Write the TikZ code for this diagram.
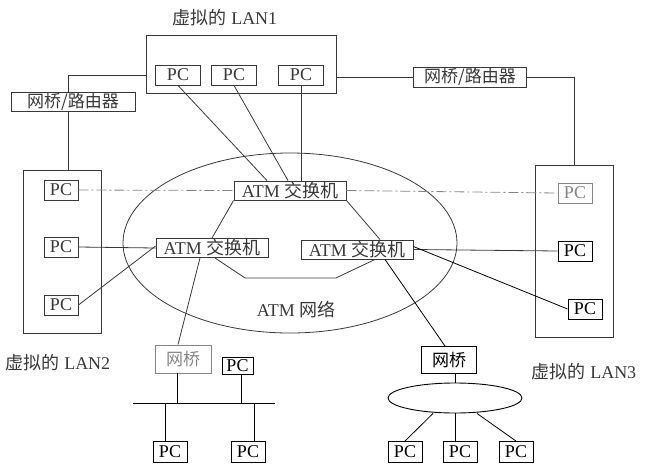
\documentclass[tikz,border=0pt]{standalone}
\usepackage{fontspec}
\setmainfont{Liberation Serif}
\newfontfamily\cjk{Noto Sans CJK SC}
\usepackage{tikz}
\usetikzlibrary{shapes.geometric}
\colorlet{lineCol}{black!78}
\colorlet{fadeCol}{black!48}

\begin{document}
\begin{tikzpicture}[x=1pt,y=-1pt,font=\fontsize{18}{20}\selectfont,
  pc/.style={draw=#1,text=#1,line width=0.9pt,minimum width=34pt,
    minimum height=20pt,inner sep=0pt},
  pc/.default=lineCol,
  lanbox/.style={draw=lineCol,line width=0.9pt,inner sep=0pt},
  atmsw/.style={draw=lineCol,text=lineCol,line width=0.9pt,
    minimum width=112pt,minimum height=19pt,inner sep=0pt},
  bridge/.style={draw=#1,text=#1,line width=0.9pt,inner sep=0pt,
    font=\cjk\fontsize{17}{19}\selectfont},
  bridge/.default=lineCol,
  link/.style={draw=#1,line width=0.8pt},
  link/.default=lineCol,
  dashlink/.style={draw=fadeCol,line width=0.8pt,
    dash pattern=on 10pt off 3pt on 2pt off 3pt},
  caption/.style={text=lineCol},
]
\useasboundingbox (0,0) rectangle (648,464);

% virtual LAN1
\node[caption] (lan1lbl) at (225,18) {{\cjk 虚拟的} LAN1};
\node[lanbox,minimum width=190pt,minimum height=58pt] (lan1) at (241,64) {};
\node[pc,minimum width=45pt] (l1pcA) at (178,75) {PC};
\node[pc,minimum width=45pt] (l1pcB) at (234,75) {PC};
\node[pc,minimum width=45pt] (l1pcC) at (301,75) {PC};

\node[bridge,minimum width=124pt,minimum height=19pt] (brgA) at (73,102) {网桥/路由器};
\node[bridge,minimum width=113pt,minimum height=20pt] (brgB) at (470,77) {网桥/路由器};

% virtual LAN2
\node[lanbox,minimum width=78pt,minimum height=163pt] (lan2) at (62,251.5) {};
\node[pc] (l2pcA) at (61,190) {PC};
\node[pc] (l2pcB) at (61,247) {PC};
\node[pc] (l2pcC) at (61,305) {PC};
\node[caption] (lan2lbl) at (58,363) {{\cjk 虚拟的} LAN2};

% virtual LAN3
\node[lanbox,minimum width=78pt,minimum height=172pt] (lan3) at (574,251) {};
\node[pc=fadeCol] (l3pcA) at (575,193) {PC};
\node[pc=black] (l3pcB) at (575,251) {PC};
\node[pc=black] (l3pcC) at (585,309) {PC};
\node[caption] (lan3lbl) at (584,372) {{\cjk 虚拟的} LAN3};

% ATM network
\draw[lineCol,line width=0.8pt] (290,243) ellipse [x radius=167pt,y radius=90pt];
\node[caption] (atmlbl) at (296,310) {ATM {\cjk 网络}};
\node[atmsw] (sw1) at (290,190.5) {ATM {\cjk 交换机}};
\node[atmsw] (sw2) at (212,248) {ATM {\cjk 交换机}};
\node[atmsw] (sw3) at (357,249.5) {ATM {\cjk 交换机}};

% bridged segment, lower left
\node[bridge=fadeCol,minimum width=56pt,minimum height=28pt] (brgL) at (183,359) {网桥};
\node[pc=black,minimum width=31pt,minimum height=17pt] (pcL) at (237.5,366) {PC};
\coordinate (busW) at (133,403);
\coordinate (busE) at (275,403);
\node[pc=black,minimum height=21pt] (bpcA) at (170,452) {PC};
\node[pc=black,minimum height=21pt] (bpcB) at (248,452) {PC};

% bridged segment, lower right
\node[bridge=black,minimum width=55pt,minimum height=27pt] (brgR) at (449,360) {网桥};
\node[draw=black,line width=0.9pt,ellipse,minimum width=134pt,minimum height=30pt] (seg) at (455,398) {};
\node[pc=black,minimum height=21pt] (rpcA) at (405,452) {PC};
\node[pc=black,minimum height=21pt] (rpcB) at (460,452) {PC};
\node[pc=black,minimum height=21pt] (rpcC) at (516,452) {PC};

% LAN1 to bridges
\draw[link] (lan1.west |- l1pcA) -| ([xshift=-5pt]brgA.north);
\draw[link] ([xshift=-5pt]brgA.south) -- ([xshift=-5pt]brgA.south |- lan2.north);
\draw[link] (lan1.east |- brgB) -- (brgB.west);
\draw[link] (brgB.east) -| (lan3.north);

% LAN1 to switch
\draw[link] (l1pcA.south) -- ([xshift=-23pt]sw1.north);
\draw[link] (l1pcB.south) -- ([xshift=-2pt]sw1.north);
\draw[link] (l1pcC.south) -- (l1pcC.south |- sw1.north);

% switch links
\draw[dashlink] (l2pcA.east) -- (sw1.west);
\draw[dashlink] (sw1.east) -- (l3pcA.west);
\draw[link] (sw1.south west) -- (sw2.north);
\draw[link] (sw1.south east) -- ([xshift=23pt]sw3.north);
\draw[link] ([xshift=3pt]sw2.south) -- ++(30,20) -- ++(91,0) -- ([xshift=18pt]sw3.south);
\draw[link] (l2pcB.east) -- (sw2.west);
\draw[link] (l2pcC.east) -- ([yshift=2pt]sw2.west);
\draw[link] (sw3.east) -- (l3pcB.west);
\draw[link=black] ([yshift=3pt]sw3.east) -- (l3pcC.west);
\draw[link=black] ([xshift=28pt]sw3.south) -- ([xshift=-4pt]brgR.north);
\draw[link] ([xshift=-12pt]sw2.south) -- ([xshift=-5pt]brgL.north);

% lower left bus
\draw[link=black] (busW) -- (busE);
\draw[link=black] ([xshift=-6pt]brgL.south) -- ([xshift=-6pt]brgL.south |- busW);
\draw[link=black] ([xshift=4pt]pcL.south) -- ([xshift=4pt]pcL.south |- busW);
\draw[link=black] ([xshift=-5pt]bpcA.north |- busW) -- ([xshift=-5pt]bpcA.north);
\draw[link=black] ([xshift=6pt]bpcB.north |- busW) -- ([xshift=6pt]bpcB.north);

% lower right segment
\draw[link=black] ([xshift=6pt]brgR.south) -- (seg.north);
\draw[link=black] ([xshift=-22pt]seg.south) -- (rpcA.north);
\draw[link=black] (seg.south) -- (seg.south |- rpcB.north);
\draw[link=black] ([xshift=22pt]seg.south) -- (rpcC.north);

\end{tikzpicture}
\end{document}
